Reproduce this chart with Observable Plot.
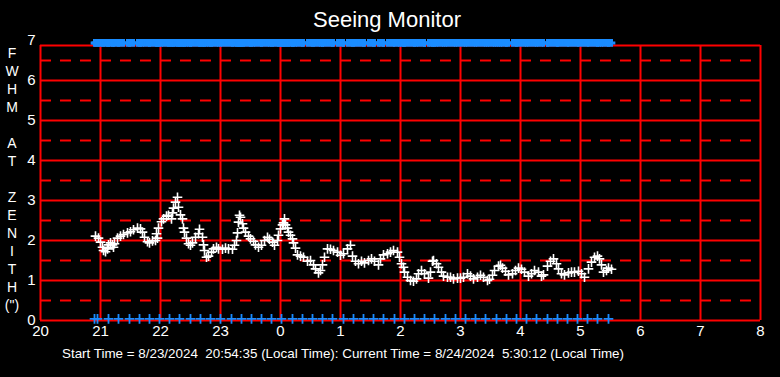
<!DOCTYPE html>
<html>
<head>
<meta charset="utf-8">
<script src="https://cdn.jsdelivr.net/npm/d3@7"></script>
<script src="https://cdn.jsdelivr.net/npm/@observablehq/plot@0.6"></script>
<style>
  html, body { margin: 0; padding: 0; background: #000; }
  #wrap { position: relative; width: 780px; height: 377px; background: #000; overflow: hidden;
          font-family: "Liberation Sans", Arial, sans-serif; color: #fff; }
  #title { position: absolute; left: 0; width: 774px; top: 7px; text-align: center; font-size: 22px; }
  #ylab { position: absolute; left: 4px; width: 16px; top: 44px; text-align: center; font-size: 14px; line-height: 18px; }
  #foot { position: absolute; left: 62px; top: 346px; font-size: 13.4px; white-space: pre; }
  #chart { position: absolute; left: 0; top: 0; }
</style>
</head>
<body>
<div id="wrap">
  <div id="chart"></div>
  <div id="title"></div>
  <div id="ylab"></div>
  <div id="foot"></div>
</div>
<script>
// ---- data ----
const titleText = "Seeing Monitor";
const yTitleLines = ["F", "W", "H", "M", "", "A", "T", "", "Z", "E", "N", "I", "T", "H", "(\")"];
const footerText = "Start Time = 8/23/2024  20:54:35 (Local Time): Current Time = 8/24/2024  5:30:12 (Local Time)";

const hourTicks = [20, 21, 22, 23, 24, 25, 26, 27, 28, 29, 30, 31, 32];
const hourLabels = ["20", "21", "22", "23", "0", "1", "2", "3", "4", "5", "6", "7", "8"];
const yTicks = [0, 1, 2, 3, 4, 5, 6, 7];
const solidY = [0, 1, 2, 3, 4, 5, 6];
const dashedY = [0.5, 1.5, 2.5, 3.5, 4.5, 5.5, 6.5];
const frameTop = 6.875;
const markerTopY = 6.94;
const markerBottomY = 0.04;

// minutes after 20:00 local time, and FWHM at zenith (arcsec)
const minutes = [55, 58, 60, 62, 63, 65, 67, 68, 70, 72, 73, 74, 77, 80, 83, 87, 90, 93, 97, 100,
  102, 104, 107, 109, 112, 115, 116, 117, 118, 121, 123, 126, 128, 131, 132, 133, 135, 137, 138, 140,
  142, 143, 144, 146, 148, 150, 152, 155, 158, 159, 162, 163, 164, 166, 168, 171, 173, 176, 178, 182,
  185, 188, 192, 194, 196, 197, 198, 199, 200, 202, 203, 205, 208, 210, 213, 215, 218, 221, 224, 227,
  229, 232, 234, 237, 238, 240, 242, 243, 244, 245, 247, 248, 250, 252, 253, 255, 257, 260, 263, 267,
  270, 273, 275, 278, 280, 282, 284, 287, 290, 293, 297, 300, 303, 307, 310, 312, 315, 318, 321, 324,
  328, 331, 334, 338, 340, 343, 347, 350, 353, 357, 359, 361, 363, 364, 367, 370, 373, 376, 378, 381,
  384, 388, 390, 392, 393, 396, 398, 401, 403, 407, 410, 413, 417, 420, 423, 427, 430, 433, 437, 440,
  443, 447, 449, 452, 454, 458, 460, 462, 465, 468, 472, 475, 478, 481, 484, 488, 491, 494, 498, 501,
  503, 507, 510, 513, 516, 518, 521, 524, 528, 531, 534, 538, 541, 544, 548, 551, 554, 557, 559, 561,
  563, 566, 568, 571];
const fwhm = [2.11, 2.06, 1.96, 1.83, 1.75, 1.72, 1.79, 1.89, 1.94, 1.89, 1.83, 1.92, 2.06, 2.11, 2.15, 2.19, 2.22, 2.27, 2.31, 2.29,
  2.21, 2.08, 1.97, 1.94, 1.99, 2.00, 2.17, 2.06, 2.31, 2.47, 2.54, 2.61, 2.63, 2.54, 2.69, 2.81, 2.96, 3.08, 2.83, 2.64,
  2.54, 2.31, 2.21, 2.06, 1.92, 1.88, 1.94, 2.08, 2.17, 2.28, 2.08, 1.89, 1.75, 1.58, 1.61, 1.71, 1.79, 1.83, 1.79, 1.78,
  1.81, 1.79, 1.78, 1.88, 2.00, 2.19, 2.46, 2.63, 2.58, 2.42, 2.31, 2.21, 2.11, 2.04, 1.98, 1.89, 1.83, 1.88, 2.00, 2.08,
  2.03, 1.96, 1.88, 2.00, 2.13, 2.29, 2.39, 2.44, 2.54, 2.39, 2.31, 2.21, 2.13, 2.04, 1.94, 1.81, 1.64, 1.61, 1.58, 1.48,
  1.50, 1.39, 1.29, 1.19, 1.25, 1.39, 1.58, 1.79, 1.78, 1.75, 1.71, 1.63, 1.67, 1.79, 1.88, 1.61, 1.48, 1.42, 1.48, 1.44,
  1.50, 1.54, 1.48, 1.39, 1.54, 1.64, 1.67, 1.71, 1.75, 1.71, 1.58, 1.42, 1.33, 1.21, 1.08, 1.00, 0.98, 1.04, 1.17, 1.25,
  1.17, 1.06, 1.21, 1.48, 1.50, 1.42, 1.33, 1.21, 1.11, 1.08, 1.08, 1.04, 1.06, 1.06, 1.08, 1.17, 1.11, 1.04, 1.08, 1.13,
  1.08, 1.00, 1.03, 1.13, 1.25, 1.36, 1.38, 1.31, 1.23, 1.14, 1.17, 1.25, 1.31, 1.28, 1.21, 1.11, 1.17, 1.25, 1.21, 1.11,
  1.14, 1.36, 1.48, 1.54, 1.42, 1.29, 1.17, 1.14, 1.19, 1.21, 1.21, 1.23, 1.17, 1.08, 1.29, 1.46, 1.58, 1.61, 1.54, 1.39,
  1.21, 1.25, 1.31, 1.28];

// blue sample markers along the bottom (minutes after 20:00)
const bottomMarks = [54, 57, 68, 78, 89, 99, 109, 119, 129, 139, 150, 160, 170, 180, 191, 201, 211, 221, 231, 241,
  252, 262, 272, 282, 292, 303, 313, 323, 333, 343, 354, 364, 374, 384, 394, 405, 415, 425, 435, 445,
  456, 466, 476, 486, 496, 507, 517, 527, 537, 547, 557, 568];

// ---- build ----
const toHour = m => 20 + m / 60;
const points = minutes.map((m, i) => ({t: toHour(m), v: fwhm[i]}));
const bottomPts = bottomMarks.map(m => ({t: toHour(m)}));
const topPts = [...minutes, ...bottomMarks].map(m => ({t: toHour(m)}));

const RED = "#ff0000";
const BLUE = "#1a8cff";

const chart = Plot.plot({
  width: 780,
  height: 377,
  marginLeft: 40,
  marginRight: 20,
  marginTop: 40,
  marginBottom: 57,
  style: {background: "#000", color: "#fff", fontFamily: "'Liberation Sans', Arial, sans-serif", fontSize: "15px"},
  x: {domain: [20, 32], label: null},
  y: {domain: [0, 7], label: null},
  marks: [
    Plot.ruleY(dashedY, {stroke: RED, strokeWidth: 2, strokeDasharray: "11,9"}),
    Plot.ruleY(solidY, {stroke: RED, strokeWidth: 2}),
    Plot.ruleY([frameTop], {stroke: RED, strokeWidth: 2}),
    Plot.ruleX(hourTicks, {y1: 0, y2: frameTop, stroke: RED, strokeWidth: 2}),
    Plot.dot(topPts, {x: "t", y: () => markerTopY, symbol: "plus", r: 2.6, stroke: BLUE, strokeWidth: 3}),
    Plot.dot(bottomPts, {x: "t", y: () => markerBottomY, symbol: "plus", r: 3.2, stroke: BLUE, strokeWidth: 1.8}),
    Plot.dot(points, {x: "t", y: "v", symbol: "plus", r: 3.2, stroke: "#fff", strokeWidth: 1.6}),
    Plot.axisX(hourTicks, {tickSize: 0, tickPadding: 5, fill: "#fff", fontSize: 15,
      tickFormat: d => hourLabels[hourTicks.indexOf(d)], label: null}),
    Plot.axisY(yTicks, {tickSize: 0, tickPadding: 5, fill: "#fff", fontSize: 15, label: null})
  ]
});
document.getElementById("chart").appendChild(chart);
document.getElementById("title").textContent = titleText;
document.getElementById("ylab").innerHTML = yTitleLines.map(s => `<div style="height:18px">${s === "" ? "&nbsp;" : s}</div>`).join("");
document.getElementById("foot").textContent = footerText;
</script>
</body>
</html>
